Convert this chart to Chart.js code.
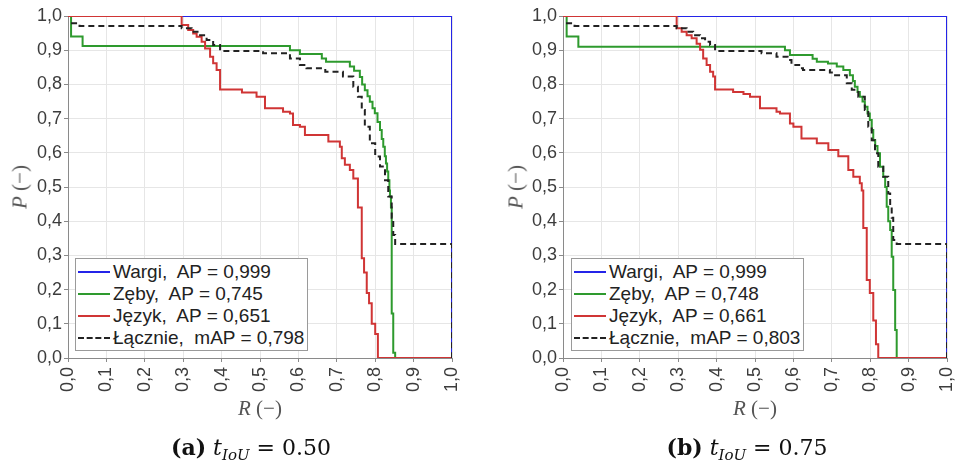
<!DOCTYPE html>
<html lang="pl">
<head>
<meta charset="utf-8">
<title>Krzywe precyzja-czułość</title>
<script src="https://cdn.jsdelivr.net/npm/chart.js@4.4.1/dist/chart.umd.min.js"></script>
<style>
  html, body { margin: 0; padding: 0; background: #fff; }
  #wrap { position: relative; width: 956px; height: 466px; overflow: hidden; }
  .panel { position: absolute; top: 0; width: 478px; height: 420px; }
  .panel canvas { position: absolute; left: 0; top: 0; }
  .ytitle, .xtitle {
    position: absolute; white-space: nowrap; color: #555;
    font-family: 'Liberation Serif', serif; font-size: 21px;
  }
  .ytitle { transform: translate(-50%, -50%) rotate(-90deg); }
  .xtitle { transform: translate(-50%, -50%); }
  .legend {
    position: absolute; top: 258px; width: 233px; height: 93px;
    box-sizing: border-box; border: 1px solid #9a9a9a; background: #fff;
    padding: 2px 0 0 2px;
    font-family: 'Liberation Sans', Arial, sans-serif; font-size: 19px; color: #222;
  }
  .legend .row { display: flex; align-items: center; height: 22px; white-space: pre; }
  .legend .swatch { width: 32px; height: 0; margin-right: 3px; border-top-width: 2px; }
  .caption {
    position: absolute; top: 449px; transform: translate(-50%, -50%); white-space: nowrap;
    font-family: 'DejaVu Serif', serif; font-size: 22px; color: #111;
  }
  .caption sub { font-size: 15px; vertical-align: -5px; }
</style>
</head>
<body>
<div id="wrap">
  <div class="panel" id="panelA" style="left:0">
    <canvas id="chartA" width="478" height="420"></canvas>
    <div class="ytitle" style="left:20px; top:187px"><i>P</i> (−)</div>
    <div class="xtitle" style="left:260px; top:408px"><i>R</i> (−)</div>
    <div class="legend" id="legendA" style="left:75px"></div>
  </div>
  <div class="panel" id="panelB" style="left:478px">
    <canvas id="chartB" width="478" height="420"></canvas>
    <div class="ytitle" style="left:38px; top:187px"><i>P</i> (−)</div>
    <div class="xtitle" style="left:277px; top:408px"><i>R</i> (−)</div>
    <div class="legend" id="legendB" style="left:93px"></div>
  </div>
  <div class="caption" style="left:251px"><b>(a)</b> <i>t</i><sub><i>IoU</i></sub> = 0.50</div>
  <div class="caption" style="left:747px"><b>(b)</b> <i>t</i><sub><i>IoU</i></sub> = 0.75</div>
</div>
<script>
// ── Data: recall (R) / precision (P) points, one level-start per step ──

const classNames = ['Wargi', 'Zęby', 'Język', 'Łącznie'];
const apLabels = ['AP', 'AP', 'AP', 'mAP'];
const apA = ['0,999', '0,745', '0,651', '0,798'];
const apB = ['0,999', '0,748', '0,661', '0,803'];
const tickLabels = ['0,0', '0,1', '0,2', '0,3', '0,4', '0,5', '0,6', '0,7', '0,8', '0,9', '1,0'];

// (a) t_IoU = 0.50
const aWargiR = [0, 1.0, 1.0];
const aWargiP = [1.0, 1.0, 0.0];

const aZebyR = [0, 0.008, 0.038, 0.578, 0.604, 0.661, 0.672, 0.734, 0.745, 0.760, 0.766, 0.773, 0.780,
  0.786, 0.793, 0.799, 0.806, 0.8125, 0.817, 0.821, 0.825, 0.828, 0.831, 0.834, 0.837, 0.8385, 0.841,
  0.843, 0.847, 0.852, 1.0];
const aZebyP = [1.0, 0.94, 0.912, 0.90, 0.889, 0.876, 0.866, 0.852, 0.84, 0.822, 0.80, 0.783, 0.765,
  0.749, 0.73, 0.716, 0.69, 0.667, 0.64, 0.618, 0.59, 0.569, 0.545, 0.52, 0.49, 0.472, 0.44,
  0.13, 0.015, 0.0, 0.0];

const aJezykR = [0, 0.296, 0.313, 0.326, 0.335, 0.348, 0.357, 0.370, 0.378, 0.387, 0.396, 0.453, 0.491,
  0.513, 0.560, 0.578, 0.586, 0.604, 0.617, 0.678, 0.708, 0.713, 0.721, 0.734, 0.743, 0.755, 0.755,
  0.765, 0.771, 0.778, 0.784, 0.791, 0.800, 0.807, 1.0];
const aJezykP = [1.0, 0.974, 0.959, 0.949, 0.939, 0.925, 0.905, 0.881, 0.862, 0.842, 0.785, 0.776, 0.764,
  0.730, 0.720, 0.715, 0.681, 0.676, 0.652, 0.633, 0.618, 0.584, 0.565, 0.550, 0.525, 0.515, 0.44,
  0.292, 0.25, 0.19, 0.16, 0.10, 0.07, 0.0, 0.0];

const aLacznieR = [0.008, 0.03, 0.296, 0.322, 0.344, 0.361, 0.378, 0.396, 0.508, 0.578, 0.604, 0.621,
  0.670, 0.716, 0.743, 0.755, 0.765, 0.773, 0.786, 0.800, 0.8125, 0.8255, 0.834, 0.843, 0.847, 0.852, 1.0];
const aLacznieP = [0.979, 0.971, 0.964, 0.954, 0.944, 0.930, 0.915, 0.898, 0.891, 0.876, 0.857, 0.847,
  0.837, 0.823, 0.793, 0.764, 0.725, 0.676, 0.628, 0.589, 0.56, 0.52, 0.472, 0.41, 0.36, 0.333, 0.0];

// (b) t_IoU = 0.75
const bWargiR = [0, 1.0, 1.0];
const bWargiP = [1.0, 1.0, 0.0];

const bZebyR = [0, 0.0095, 0.04, 0.578, 0.591, 0.650, 0.661, 0.690, 0.713, 0.730, 0.747, 0.755, 0.760,
  0.767, 0.773, 0.780, 0.786, 0.793, 0.799, 0.804, 0.808, 0.813, 0.819, 0.8255, 0.834, 0.839, 0.843,
  0.847, 0.852, 0.856, 0.860, 0.865, 0.869, 1.0];
const bZebyP = [1.0, 0.94, 0.91, 0.90, 0.886, 0.875, 0.866, 0.861, 0.852, 0.842, 0.827, 0.81, 0.793,
  0.778, 0.764, 0.75, 0.735, 0.715, 0.696, 0.667, 0.637, 0.62, 0.599, 0.559, 0.53, 0.50, 0.442,
  0.40, 0.374, 0.296, 0.199, 0.082, 0.0, 0.0];

const bJezykR = [0, 0.296, 0.309, 0.322, 0.335, 0.348, 0.357, 0.365, 0.374, 0.383, 0.391, 0.396, 0.443,
  0.470, 0.487, 0.513, 0.556, 0.565, 0.591, 0.600, 0.621, 0.661, 0.691, 0.717, 0.743, 0.756, 0.773,
  0.778, 0.782, 0.791, 0.799, 0.808, 0.815, 0.821, 1.0];
const bJezykP = [1.0, 0.964, 0.954, 0.944, 0.935, 0.919, 0.901, 0.876, 0.857, 0.837, 0.823, 0.785, 0.778,
  0.772, 0.764, 0.730, 0.720, 0.715, 0.686, 0.676, 0.642, 0.628, 0.608, 0.590, 0.550, 0.530, 0.511,
  0.49, 0.38, 0.228, 0.19, 0.11, 0.04, 0.0, 0.0];

const bLacznieR = [0.008, 0.03, 0.296, 0.322, 0.339, 0.357, 0.370, 0.383, 0.396, 0.517, 0.556, 0.585,
  0.595, 0.615, 0.625, 0.695, 0.703, 0.739, 0.752, 0.769, 0.786, 0.795, 0.804, 0.8125, 0.821, 0.834,
  0.847, 0.852, 0.856, 0.860, 0.869, 1.0];
const bLacznieP = [0.979, 0.971, 0.964, 0.954, 0.944, 0.935, 0.925, 0.915, 0.898, 0.891, 0.881, 0.871,
  0.857, 0.847, 0.842, 0.835, 0.827, 0.803, 0.784, 0.764, 0.725, 0.676, 0.637, 0.599, 0.559, 0.53,
  0.481, 0.45, 0.41, 0.345, 0.333, 0.0];

// ── Styles ────────────────────────────────────────────

const LINE_COLORS = ['#2424e8', '#2e9a2e', '#d03535', '#222222'];
const LINE_DASH = [[], [], [], [6, 4]];
const TICK_FONT = { family: "'Liberation Sans', Arial, sans-serif", size: 18 };

function toPoints(rs, ps) {
  return rs.map((r, k) => ({ x: r, y: ps[k] }));
}

function buildLegend(id, values) {
  const box = document.getElementById(id);
  classNames.forEach((name, i) => {
    const row = document.createElement('div');
    row.className = 'row';
    const sw = document.createElement('span');
    sw.className = 'swatch';
    sw.style.borderTopStyle = LINE_DASH[i].length ? 'dashed' : 'solid';
    sw.style.borderTopColor = LINE_COLORS[i];
    const txt = document.createElement('span');
    txt.textContent = name + ',  ' + apLabels[i] + ' = ' + values[i];
    row.appendChild(sw);
    row.appendChild(txt);
    box.appendChild(row);
  });
}

function makeAxis(extra) {
  return Object.assign({
    type: 'linear',
    min: 0,
    max: 1,
    ticks: {
      stepSize: 0.1,
      autoSkip: false,
      color: '#3c3c3c',
      font: TICK_FONT,
      callback: v => tickLabels[Math.round(v * 10)],
    },
    grid: { color: '#e6e6e6', tickColor: '#8a8a8a', tickLength: 4 },
    border: { color: '#8a8a8a', width: 1 },
  }, extra);
}

function createPrChart(canvasId, series, yAxisWidth, padRight) {
  const ctx = document.getElementById(canvasId);
  const x = makeAxis({
    afterFit: s => { s.height = 62; s.paddingLeft = 0; s.paddingRight = 0; },
  });
  x.ticks = Object.assign({}, x.ticks, { maxRotation: 90, minRotation: 90, padding: 5 });
  const y = makeAxis({
    afterFit: s => { s.width = yAxisWidth; s.paddingTop = 0; s.paddingBottom = 0; },
  });
  y.ticks = Object.assign({}, y.ticks, { padding: 2 });

  return new Chart(ctx, {
    type: 'line',
    data: {
      datasets: series.map((s, i) => ({
        label: classNames[i],
        data: toPoints(s[0], s[1]),
        borderColor: LINE_COLORS[i],
        borderDash: LINE_DASH[i],
        borderWidth: 2,
        stepped: true,
        pointRadius: 0,
        fill: false,
        order: series.length - i,
      })),
    },
    options: {
      responsive: false,
      animation: false,
      layout: { padding: { left: 0, right: padRight, top: 16, bottom: 0 } },
      plugins: { legend: { display: false }, tooltip: { enabled: false } },
      scales: { x, y },
    },
  });
}

createPrChart('chartA', [
  [aWargiR, aWargiP], [aZebyR, aZebyP], [aJezykR, aJezykP], [aLacznieR, aLacznieP],
], 68, 26);
createPrChart('chartB', [
  [bWargiR, bWargiP], [bZebyR, bZebyP], [bJezykR, bJezykP], [bLacznieR, bLacznieP],
], 85, 9);

buildLegend('legendA', apA);
buildLegend('legendB', apB);
</script>
</body>
</html>
